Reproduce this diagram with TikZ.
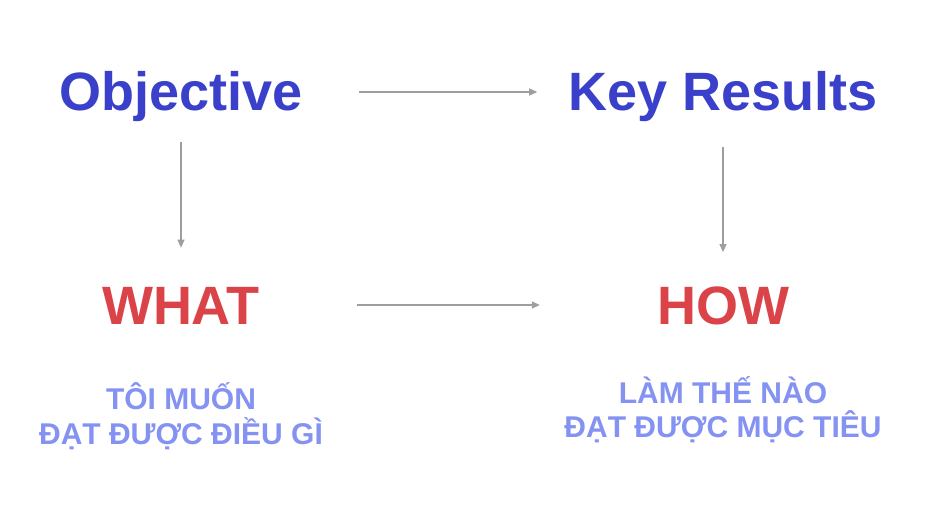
\documentclass[tikz,border=0pt]{standalone}
\usepackage{fontspec}
\setmainfont{Liberation Sans}
\usetikzlibrary{arrows.meta}
\definecolor{okrblue}{HTML}{3A40C9}
\definecolor{okrred}{HTML}{DA4449}
\definecolor{okrsoft}{HTML}{8492F2}
\definecolor{okrgray}{HTML}{9E9E9E}
\tikzset{
  title/.style={font=\fontsize{54}{60}\selectfont\bfseries, inner sep=0pt, anchor=base},
  sub/.style={font=\fontsize{30}{35}\selectfont\bfseries, text=okrsoft, inner sep=0pt, anchor=base},
  arr/.style={-{Triangle[length=8pt,width=7pt]}, okrgray, line width=1.3pt}
}
\begin{document}
\begin{tikzpicture}[x=1pt, y=-1pt]
  \useasboundingbox[fill=white] (0,0) rectangle (947,520);
  % hàng trên: OKR
  \node[title, text=okrblue] (obj) at (181,110) {Objective};
  \node[title, text=okrblue] (kr)  at (723,110) {Key Results};
  % hàng dưới: WHAT / HOW
  \node[title, text=okrred] (what) at (181,324) {WHAT};
  \node[title, text=okrred] (how)  at (723,324) {HOW};
  \node[sub] (whatA) at (181,409) {TÔI MUỐN};
  \node[sub] (whatB) at (181,444) {ĐẠT ĐƯỢC ĐIỀU GÌ};
  \node[sub] (howA)  at (723,403) {LÀM THẾ NÀO};
  \node[sub] (howB)  at (723,437) {ĐẠT ĐƯỢC MỤC TIÊU};
  % mũi tên
  \draw[arr] ([xshift=56pt,yshift=18pt]obj.base east) -- ([xshift=-31pt,yshift=18pt]kr.base west);
  \draw[arr] ([xshift=97pt,yshift=19pt]what.base east) -- ([xshift=-117pt,yshift=19pt]how.base west);
  \draw[arr, shorten <=21pt, shorten >=39pt] (obj.south) -- (what.north);
  \draw[arr, shorten <=26pt, shorten >=34pt] (kr.south) -- (how.north);
\end{tikzpicture}
\end{document}
